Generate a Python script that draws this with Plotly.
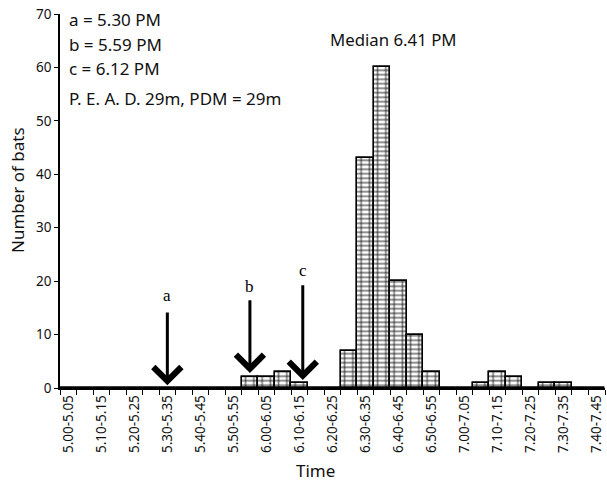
import plotly.graph_objects as go

starts = ["5.00","5.05","5.10","5.15","5.20","5.25","5.30","5.35","5.40","5.45","5.50","5.55",
          "6.00","6.05","6.10","6.15","6.20","6.25","6.30","6.35","6.40","6.45","6.50","6.55",
          "7.00","7.05","7.10","7.15","7.20","7.25","7.30","7.35","7.40"]
ends = starts[1:] + ["7.45"]
categories = [f"{s}-{e}" for s, e in zip(starts, ends)]
counts = [0,0,0,0,0,0,0,0,0,0,0,2,2,3,1,0,0,7,43,60,20,10,3,0,0,1,3,2,0,1,1,0,0]
tick_labels = [c if i % 2 == 0 else "" for i, c in enumerate(categories)]

# arrow markers: (label, category index, tip value, tail value, label value)
arrow_labels = ["a", "b", "c"]
arrow_pos = [6, 11, 14.2]
arrow_tip = [0.5, 2.8, 1.5]
arrow_tail = [14.4, 16.7, 19.5]
arrow_text_y = [17.4, 19.0, 22.0]

info_lines = ["a = 5.30 PM", "b = 5.59 PM", "c = 6.12 PM", "P. E. A. D. 29m, PDM = 29m"]
median_text = "Median 6.41 PM"

FONT = "Noto Sans"
L, R, T, B = 60, 605, 14, 388

fig = go.Figure()
fig.add_trace(go.Bar(
    x=categories, y=counts,
    marker=dict(color="white", line=dict(color="black", width=1.4),
                pattern=dict(shape="-", size=4.5, fgcolor="black", bgcolor="white", solidity=0.4)),
    showlegend=False))
fig.add_trace(go.Bar(
    x=categories, y=counts,
    marker=dict(color="rgba(0,0,0,0)", line=dict(color="black", width=1.4),
                pattern=dict(shape="|", size=8.25, fgcolor="black", bgcolor="rgba(0,0,0,0)", solidity=0.2)),
    showlegend=False))

annotations = []
for lab, xp, tip, tail, ty in zip(arrow_labels, arrow_pos, arrow_tip, arrow_tail, arrow_text_y):
    annotations.append(dict(x=xp, y=tip, ax=xp, ay=tail, xref="x", yref="y", axref="x", ayref="y",
                            text="", showarrow=True, arrowhead=4, arrowsize=1.8, arrowwidth=3,
                            arrowcolor="black"))
    annotations.append(dict(x=xp, y=ty, xref="x", yref="y", text=lab, showarrow=False,
                            font=dict(family="Liberation Serif", size=17, color="black")))

def px(x, y):
    return (x - L) / (R - L), (B - y) / (B - T)

info_y = [20, 44, 68, 98]
for txt, py in zip(info_lines, info_y):
    xx, yy = px(67, py)
    annotations.append(dict(x=xx, y=yy, xref="paper", yref="paper", text=txt, showarrow=False,
                            xanchor="left", yanchor="middle",
                            font=dict(family=FONT, size=17, color="#111")))
xx, yy = px(393, 39)
annotations.append(dict(x=xx, y=yy, xref="paper", yref="paper", text=median_text,
                        showarrow=False, xanchor="center", yanchor="middle",
                        font=dict(family=FONT, size=16.8, color="#111")))
xx, yy = px(315, 470)
annotations.append(dict(x=xx, y=yy, xref="paper", yref="paper", text="Time",
                        showarrow=False, xanchor="center", yanchor="middle",
                        font=dict(family=FONT, size=17, color="#111")))
xx, yy = px(17, 190)
annotations.append(dict(x=xx, y=yy, xref="paper", yref="paper", text="Number of bats",
                        showarrow=False, xanchor="center", yanchor="middle", textangle=-90,
                        font=dict(family=FONT, size=17, color="#111")))

fig.update_layout(
    width=607, height=486,
    margin=dict(l=L, r=607 - R, t=T, b=486 - B),
    paper_bgcolor="white", plot_bgcolor="white",
    barmode="overlay", bargap=0,
    font=dict(family=FONT, color="#111"),
    annotations=annotations,
    xaxis=dict(type="category", tickmode="array", tickvals=categories, ticktext=tick_labels,
               tickson="boundaries", ticks="outside", ticklen=5, tickcolor="black",
               tickangle=-90, tickfont=dict(size=13.5, family=FONT, color="#111"),
               showline=True, linecolor="black", linewidth=1.5, showgrid=False,
               range=[-0.5, 32.5]),
    yaxis=dict(range=[0, 70], tickvals=[0, 10, 20, 30, 40, 50, 60, 70], ticks="outside",
               ticklen=4, tickcolor="black", showline=True, linecolor="black", linewidth=1.5,
               showgrid=False, zeroline=False, tickfont=dict(size=13.5, family=FONT, color="#111")),
)

fig.write_html("out.html")
